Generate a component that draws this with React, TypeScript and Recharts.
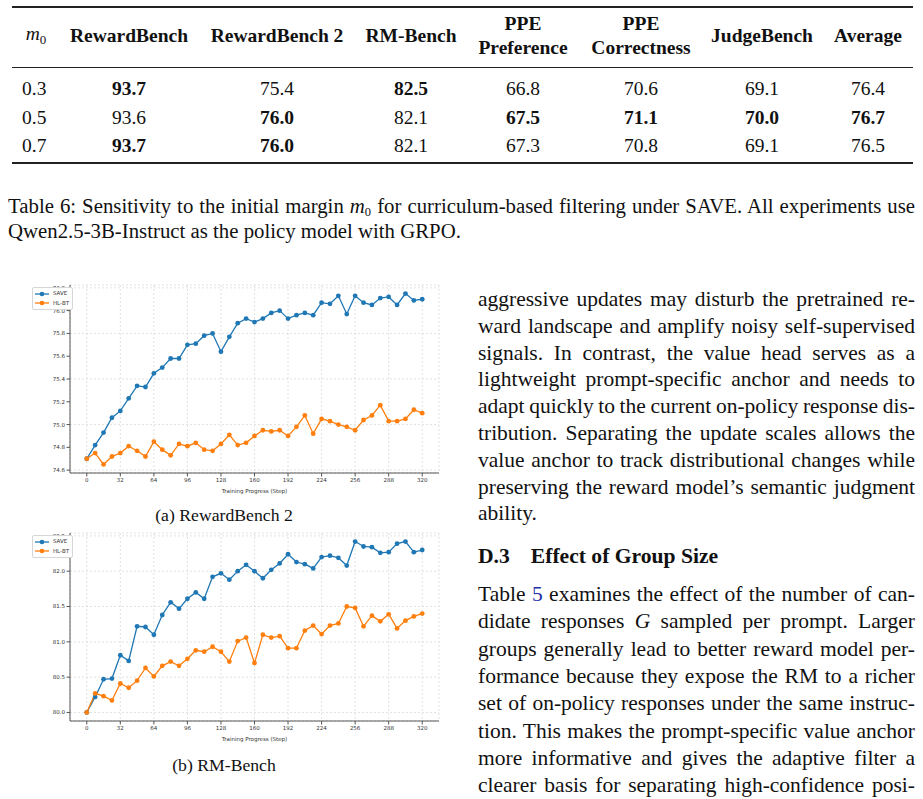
import React from 'react';
import { LineChart, Line, XAxis, YAxis, CartesianGrid, Legend } from 'recharts';

// ---------- chart data ----------
const steps = [0, 8, 16, 24, 32, 40, 48, 56, 64, 72, 80, 88, 96, 104, 112, 120, 128, 136, 144, 152, 160, 168, 176, 184, 192, 200, 208, 216, 224, 232, 240, 248, 256, 264, 272, 280, 288, 296, 304, 312, 320];
const stepTicks = [0, 32, 64, 96, 128, 160, 192, 224, 256, 288, 320];

const rb2Save = [74.70, 74.82, 74.93, 75.06, 75.12, 75.23, 75.34, 75.33, 75.45, 75.50, 75.58, 75.58, 75.70, 75.71, 75.78, 75.80, 75.64, 75.77, 75.89, 75.93, 75.90, 75.93, 75.98, 76.00, 75.93, 75.96, 75.98, 75.96, 76.07, 76.06, 76.13, 75.97, 76.13, 76.07, 76.05, 76.11, 76.12, 76.05, 76.15, 76.09, 76.10];
const rb2Hlbt = [74.70, 74.75, 74.65, 74.72, 74.75, 74.81, 74.77, 74.72, 74.85, 74.78, 74.73, 74.83, 74.81, 74.84, 74.78, 74.77, 74.83, 74.91, 74.82, 74.84, 74.90, 74.95, 74.94, 74.95, 74.90, 74.98, 75.08, 74.92, 75.05, 75.03, 75.00, 74.98, 74.95, 75.04, 75.08, 75.17, 75.03, 75.03, 75.05, 75.13, 75.10];
const rb2Ticks = [74.6, 74.8, 75.0, 75.2, 75.4, 75.6, 75.8, 76.0, 76.2];

const rmSave = [80.00, 80.22, 80.47, 80.48, 80.81, 80.73, 81.22, 81.21, 81.10, 81.38, 81.56, 81.47, 81.61, 81.70, 81.61, 81.92, 81.97, 81.88, 82.00, 82.09, 82.00, 81.90, 82.02, 82.11, 82.24, 82.13, 82.10, 82.04, 82.20, 82.22, 82.19, 82.08, 82.42, 82.35, 82.34, 82.26, 82.27, 82.39, 82.42, 82.27, 82.30];
const rmHlbt = [80.00, 80.27, 80.23, 80.17, 80.41, 80.35, 80.45, 80.63, 80.51, 80.66, 80.72, 80.66, 80.76, 80.88, 80.86, 80.93, 80.86, 80.72, 81.01, 81.06, 80.70, 81.10, 81.06, 81.08, 80.91, 80.91, 81.16, 81.23, 81.11, 81.23, 81.26, 81.50, 81.48, 81.22, 81.37, 81.29, 81.39, 81.19, 81.30, 81.36, 81.40];
const rmTicks = [80.0, 80.5, 81.0, 81.5, 82.0, 82.5];

const seriesNames = ['SAVE', 'HL-BT'];

// ---------- table data ----------
const tableHeaders = ['RewardBench', 'RewardBench 2', 'RM-Bench', 'PPE\nPreference', 'PPE\nCorrectness', 'JudgeBench', 'Average'];
const m0Values = ['0.3', '0.5', '0.7'];
const row03 = [93.7, 75.4, 82.5, 66.8, 70.6, 69.1, 76.4];
const row05 = [93.6, 76.0, 82.1, 67.5, 71.1, 70.0, 76.7];
const row07 = [93.7, 76.0, 82.1, 67.3, 70.8, 69.1, 76.5];

// ---------- text ----------
const para1 = [
  'aggressive updates may disturb the pretrained re-',
  'ward landscape and amplify noisy self-supervised',
  'signals.  In contrast, the value head serves as a',
  'lightweight prompt-specific anchor and needs to',
  'adapt quickly to the current on-policy response dis-',
  'tribution. Separating the update scales allows the',
  'value anchor to track distributional changes while',
  'preserving the reward model\u2019s semantic judgment',
];
const para2 = [
  'groups generally lead to better reward model per-',
  'formance because they expose the RM to a richer',
  'set of on-policy responses under the same instruc-',
  'tion. This makes the prompt-specific value anchor',
  'more informative and gives the adaptive filter a',
  'clearer basis for separating high-confidence posi-',
];

const SERIF = '"Liberation Serif", "Times New Roman", serif';
const SANS = '"DejaVu Sans", sans-serif';
const colors = ['#1f77b4', '#ff7f0e'];

const padDomain = (a: number[], b: number[]): [number, number] => {
  const all = a.concat(b);
  const mn = Math.min(...all);
  const mx = Math.max(...all);
  const m = (mx - mn) * 0.05;
  return [mn - m, mx + m];
};

const renderLegend = (props: any) => {
  const payload: any[] = props.payload || [];
  const ordered = seriesNames.map((n) => payload.find((p) => p.value === n)).filter(Boolean);
  return (
    <div style={{ border: '1px solid #d6d6d6', borderRadius: 2, background: '#fff', padding: '1px 3px 1px 2px', width: 34 }}>
      {ordered.map((p: any) => (
        <div key={p.value} style={{ display: 'flex', alignItems: 'center', height: 9.5, fontSize: 5.5, fontFamily: SANS, color: '#333', lineHeight: 1 }}>
          <svg width={14} height={6} style={{ display: 'block' }}>
            <line x1={0} y1={3} x2={14} y2={3} stroke={p.color} strokeWidth={1.3} />
            <circle cx={7} cy={3} r={2.3} fill={p.color} />
          </svg>
          <span style={{ marginLeft: 4 }}>{p.value}</span>
        </div>
      ))}
    </div>
  );
};

function TrainChart(props: { save: number[]; hlbt: number[]; yTicks: number[]; top: number }) {
  const { save, hlbt, yTicks, top } = props;
  const data = steps.map((s, i) => ({ step: s, save: save[i], hlbt: hlbt[i] }));
  const domain = padDomain(save, hlbt);
  const tickStyle = { fontSize: 5.5, fill: '#333', fontFamily: SANS };
  return (
    <div style={{ position: 'absolute', left: 0, top, width: 445, height: 216 }}>
      <LineChart width={445} height={216} data={data} margin={{ top: 5, right: 6, bottom: 0, left: 0 }}>
        <CartesianGrid stroke="#cfcfcf" strokeDasharray="2 2" strokeWidth={0.6} />
        <XAxis
          dataKey="step"
          type="number"
          domain={[-16, 336]}
          ticks={stepTicks}
          tick={tickStyle}
          tickSize={3.5}
          tickMargin={1.5}
          height={23}
          stroke="#555"
          label={{ value: 'Training Progress (Step)', position: 'insideBottom', offset: 3, fontSize: 5.5, fill: '#333', fontFamily: SANS }}
        />
        <XAxis xAxisId="top" orientation="top" dataKey="step" type="number" domain={[-16, 336]} height={0} tick={false} tickLine={false} stroke="#555" />
        <YAxis
          type="number"
          domain={domain}
          ticks={yTicks}
          tick={tickStyle}
          tickSize={3.5}
          tickMargin={1.5}
          width={28}
          stroke="#555"
          tickFormatter={(v: number) => v.toFixed(1)}
        />
        <YAxis yAxisId="right" orientation="right" type="number" domain={domain} width={0} tick={false} tickLine={false} stroke="#555" />
        <Legend
          layout="horizontal"
          verticalAlign="middle"
          align="left"
          content={renderLegend}
          wrapperStyle={{ left: 32, top: 7, width: 42, height: 'auto' }}
        />
        <Line dataKey="save" name={seriesNames[0]} stroke={colors[0]} strokeWidth={1.3} dot={{ r: 2.4, fill: colors[0], stroke: colors[0], strokeWidth: 0 }} activeDot={false} isAnimationActive={false} />
        <Line dataKey="hlbt" name={seriesNames[1]} stroke={colors[1]} strokeWidth={1.3} dot={{ r: 2.4, fill: colors[1], stroke: colors[1], strokeWidth: 0 }} activeDot={false} isAnimationActive={false} />
      </LineChart>
    </div>
  );
}

const colX = [129, 277, 411, 523, 641, 762, 868];
const rowY = [88.5, 117.5, 146];

function Cell(props: { x: number; y: number; bold?: boolean; children: React.ReactNode; align?: 'center' | 'left' }) {
  const { x, y, bold, children, align } = props;
  return (
    <div
      style={{
        position: 'absolute',
        left: x,
        top: y,
        transform: align === 'left' ? 'translate(0,-50%)' : 'translate(-50%,-50%)',
        fontWeight: bold ? 700 : 400,
        whiteSpace: 'pre',
        textAlign: 'center',
        lineHeight: '24px',
      }}
    >
      {children}
    </div>
  );
}

function JLine(props: { left: number; top: number; width: number; children: React.ReactNode; justify?: boolean; size?: number; ws?: number; lh?: number }) {
  const { left, top, width, children, justify = true, size = 21.5, ws = -1.5, lh = 26 } = props;
  return (
    <div
      style={{
        position: 'absolute',
        left,
        top: top - lh / 2,
        width,
        height: lh,
        lineHeight: `${lh}px`,
        fontSize: size,
        wordSpacing: ws,
        whiteSpace: 'nowrap',
        textAlign: justify ? 'justify' : 'left',
        textAlignLast: justify ? 'justify' : 'left',
      }}
    >
      {children}
    </div>
  );
}

export default function App() {
  const rows = [row03, row05, row07];
  const colMax = tableHeaders.map((_, c) => Math.max(...rows.map((r) => r[c])));
  return (
    <div style={{ position: 'absolute', left: 0, top: 0, width: 923, height: 799, overflow: 'hidden', background: '#fff', fontFamily: SERIF, color: '#111', fontSize: 19.5 }}>
      {/* table rules */}
      <div style={{ position: 'absolute', left: 12, top: 6, width: 901, height: 2, background: '#222' }} />
      <div style={{ position: 'absolute', left: 12, top: 66.5, width: 901, height: 1.2, background: '#222' }} />
      <div style={{ position: 'absolute', left: 12, top: 162, width: 901, height: 2, background: '#222' }} />
      {/* header */}
      <Cell x={36} y={37}>
        <span style={{ fontStyle: 'italic' }}>m</span>
        <span style={{ fontSize: 13, verticalAlign: -4 }}>0</span>
      </Cell>
      {tableHeaders.map((h, i) => (
        <Cell key={h} x={colX[i]} y={36} bold>
          {h}
        </Cell>
      ))}
      {rows.map((r, ri) => (
        <React.Fragment key={ri}>
          <Cell x={22} y={rowY[ri]} align="left">
            {m0Values[ri]}
          </Cell>
          {r.map((v, ci) => (
            <Cell key={ci} x={colX[ci]} y={rowY[ri]} bold={v === colMax[ci]}>
              {v.toFixed(1)}
            </Cell>
          ))}
        </React.Fragment>
      ))}
      {/* table caption */}
      <JLine left={8} top={205.5} width={907} size={20.8} ws={-1} lh={22}>
        Table 6: Sensitivity to the initial margin <span style={{ fontStyle: 'italic' }}>m</span>
        <span style={{ fontSize: 12.5, verticalAlign: -3, lineHeight: '12px' }}>0</span> for curriculum-based filtering under SAVE. All experiments use
      </JLine>
      <JLine left={8} top={231} width={907} size={20.8} ws={0} lh={22} justify={false}>
        Qwen2.5-3B-Instruct as the policy model with GRPO.
      </JLine>

      {/* charts */}
      <TrainChart save={rb2Save} hlbt={rb2Hlbt} yTicks={rb2Ticks} top={280} />
      <div style={{ position: 'absolute', left: 124, width: 200, top: 504, textAlign: 'center', fontSize: 17.7, lineHeight: '22px' }}>(a) RewardBench 2</div>
      <TrainChart save={rmSave} hlbt={rmHlbt} yTicks={rmTicks} top={528} />
      <div style={{ position: 'absolute', left: 124, width: 200, top: 754, textAlign: 'center', fontSize: 17.7, lineHeight: '22px' }}>(b) RM-Bench</div>

      {/* right column text */}
      {para1.map((t, i) => (
        <JLine key={i} left={478} top={299 + i * 26.8} width={437}>
          {t}
        </JLine>
      ))}
      <JLine left={478} top={299 + 8 * 26.8} width={437} justify={false} ws={0}>
        ability.
      </JLine>
      <div style={{ position: 'absolute', left: 478, top: 543, fontSize: 21.6, fontWeight: 700, lineHeight: '26px', whiteSpace: 'nowrap' }}>
        D.3<span style={{ display: 'inline-block', width: 21 }} />Effect of Group Size
      </div>
      <JLine left={478} top={594} width={437}>
        Table <span style={{ color: '#1f2fa8' }}>5</span> examines the effect of the number of can-
      </JLine>
      <JLine left={478} top={594 + 27.3} width={437}>
        didate responses <span style={{ fontStyle: 'italic' }}>G</span> sampled per prompt.  Larger
      </JLine>
      {para2.map((t, i) => (
        <JLine key={i} left={478} top={594 + 27.3 * (i + 2)} width={437}>
          {t}
        </JLine>
      ))}
    </div>
  );
}
